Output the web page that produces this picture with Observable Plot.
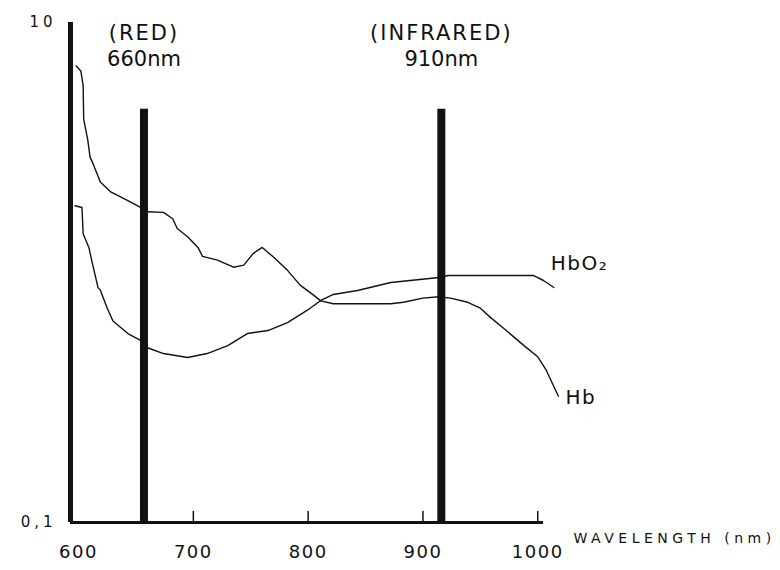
<!DOCTYPE html>
<html><head><meta charset="utf-8">
<script src="https://cdn.jsdelivr.net/npm/d3@7"></script>
<script src="https://cdn.jsdelivr.net/npm/@observablehq/plot@0.6"></script>
<style>
body{margin:0;background:#fff;}
#chart svg{display:block;}
g[aria-label="x-axis tick label"] text{letter-spacing:1.5px}
g[aria-label="y-axis tick label"] text{letter-spacing:4px}
</style></head><body><div id="chart"></div>
<script>
// Hb (deoxyhemoglobin) absorption curve
const hbWavelength = [598, 602, 604, 604.5, 608, 610, 613, 619, 628, 643, 654, 660, 674, 682, 686, 695, 704, 708, 721, 735, 744, 752, 760, 770, 782, 793, 805, 811, 822, 872, 883, 900, 914, 924, 939, 950, 959, 970, 988, 1000, 1007, 1014, 1018];
const hbValue = [6.7, 6.4, 5.6, 4.1, 3.4, 2.9, 2.7, 2.3, 2.1, 1.94, 1.82, 1.75, 1.74, 1.64, 1.5, 1.39, 1.26, 1.16, 1.12, 1.05, 1.07, 1.19, 1.26, 1.15, 1.02, 0.89, 0.81, 0.77, 0.75, 0.75, 0.76, 0.79, 0.80, 0.79, 0.76, 0.72, 0.66, 0.60, 0.51, 0.46, 0.41, 0.35, 0.32];
// HbO2 (oxyhemoglobin) absorption curve
const hbo2Wavelength = [597, 603, 604, 609, 612, 617, 619, 625, 630, 643, 654, 660, 674, 695, 712, 730, 747, 765, 782, 799, 811, 822, 843, 872, 914, 922, 996, 1005, 1014];
const hbo2Value = [1.85, 1.82, 1.43, 1.26, 1.09, 0.87, 0.85, 0.72, 0.64, 0.57, 0.535, 0.50, 0.474, 0.457, 0.474, 0.51, 0.57, 0.586, 0.63, 0.705, 0.773, 0.817, 0.847, 0.912, 0.955, 0.973, 0.973, 0.929, 0.871];
// LED bands
const bandWavelength = [657, 916];
const bandName = ["(RED)", "(INFRARED)"];
const bandLabel = ["660nm", "910nm"];
const bandTop = [4.5, 4.5];
// axes
const xDomain = [593, 1005];
const yDomain = [0.1, 10];
const xTickValues = [600, 700, 800, 900, 1000];
const xTickMarks = [700, 800, 900, 1000];
const yTickValues = [0.1, 10];
const yTickLabels = ["0,1", "10"];
const seriesNames = ["Hb", "HbO\u2082"];
const xTitle = "WAVELENGTH (nm)";

const hb = hbWavelength.map((x, i) => ({x, y: hbValue[i]}));
const hbo2 = hbo2Wavelength.map((x, i) => ({x, y: hbo2Value[i]}));
const bands = bandWavelength.map((x, i) => ({x, top: bandTop[i], name: bandName[i], label: bandLabel[i]}));
const hbEnd = [{...hb[hb.length - 1], name: seriesNames[0]}];
const hbo2End = [{...hbo2[hbo2.length - 1], name: seriesNames[1]}];
const tickShape = {draw(context, l) { context.moveTo(0, 0); context.lineTo(0, -l); }};
const ink = "#111";

const chart = Plot.plot({
  width: 780, height: 570,
  marginLeft: 70, marginRight: 237, marginTop: 22, marginBottom: 48,
  x: {domain: xDomain, label: null},
  y: {type: "log", domain: yDomain, label: null},
  style: {fontFamily: "'DejaVu Sans', sans-serif", color: ink, background: "#fff"},
  marks: [
    Plot.ruleX(bands, {x: "x", y1: yDomain[0], y2: "top", stroke: ink, strokeWidth: 8}),
    Plot.line(hb, {x: "x", y: "y", stroke: ink, strokeWidth: 1.4}),
    Plot.line(hbo2, {x: "x", y: "y", stroke: ink, strokeWidth: 1.4}),
    Plot.ruleX([xDomain[0]], {y1: yDomain[0], y2: yDomain[1], stroke: ink, strokeWidth: 5}),
    Plot.ruleY([yDomain[0]], {x1: xDomain[0], x2: xDomain[1], stroke: ink, strokeWidth: 3}),
    Plot.vector(xTickMarks, {x: d => d, y: yDomain[0], length: 11, anchor: "start", rotate: 0, shape: tickShape, stroke: ink, strokeWidth: 1.5}),
    Plot.axisX({ticks: xTickValues, tickSize: 0, tickPadding: 23, fontSize: 18, tickFormat: d => String(d), label: null}),
    Plot.axisY({ticks: yTickValues, tickSize: 0, tickPadding: 14, fontSize: 15, tickFormat: d => yTickLabels[yTickValues.indexOf(d)], label: null}),
    Plot.text(bands, {x: "x", frameAnchor: "top", dy: 3, text: "name", fontSize: 21, fill: ink}),
    Plot.text(bands, {x: "x", frameAnchor: "top", dy: 29, text: "label", fontSize: 21, fill: ink}),
    Plot.text(hbo2End, {x: "x", y: "y", text: "name", textAnchor: "start", dx: -3, dy: -24, fontSize: 20, fill: ink}),
    Plot.text(hbEnd, {x: "x", y: "y", text: "name", textAnchor: "start", dx: 7, dy: 1, fontSize: 20, fill: ink}),
    Plot.text([xTitle], {frameAnchor: "bottom-right", textAnchor: "start", dx: 30, dy: 20, fontSize: 14, fill: ink})
  ]
});
document.getElementById("chart").appendChild(chart);
// widen the stretched lettering of the scanned original
const spacing = new Map([[xTitle, "4.5px"], [bandName[0], "2px"], [bandName[1], "2px"], [seriesNames[0], "1.5px"], [seriesNames[1], "1.5px"]]);
d3.select(chart).selectAll("text").each(function () {
  const s = spacing.get(this.textContent);
  if (s) this.style.letterSpacing = s;
});
</script>
</body></html>
